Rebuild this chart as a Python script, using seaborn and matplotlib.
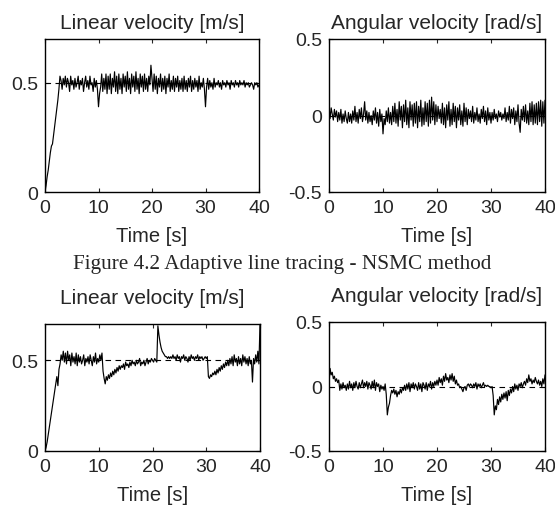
import numpy as np
import pandas as pd
import matplotlib
matplotlib.use("Agg")
import matplotlib.pyplot as plt
import seaborn as sns

# sample times (0.2 s step, 0..40 s)
time_s = [round(0.2 * i, 1) for i in range(201)]

# top row: NSMC, constant line
lin_top = [
    0.00, 0.03, 0.07, 0.10, 0.14, 0.18, 0.21, 0.22, 0.26, 0.30,
    0.34, 0.38, 0.42, 0.47, 0.53, 0.51, 0.47, 0.52, 0.49, 0.53,
    0.48, 0.52, 0.50, 0.46, 0.53, 0.49, 0.51, 0.47, 0.52, 0.48,
    0.50, 0.53, 0.47, 0.51, 0.49, 0.52, 0.46, 0.50, 0.53, 0.48,
    0.51, 0.47, 0.53, 0.49, 0.50, 0.46, 0.52, 0.48, 0.51, 0.47,
    0.39, 0.45, 0.48, 0.54, 0.46, 0.52, 0.47, 0.54, 0.45, 0.53,
    0.47, 0.54, 0.45, 0.52, 0.48, 0.55, 0.46, 0.53, 0.45, 0.54,
    0.47, 0.52, 0.45, 0.54, 0.48, 0.53, 0.46, 0.55, 0.47, 0.52,
    0.45, 0.54, 0.48, 0.53, 0.46, 0.55, 0.47, 0.52, 0.45, 0.54,
    0.48, 0.53, 0.46, 0.54, 0.47, 0.52, 0.46, 0.53, 0.49, 0.58,
    0.52, 0.46, 0.54, 0.47, 0.53, 0.45, 0.52, 0.48, 0.54, 0.46,
    0.52, 0.47, 0.53, 0.45, 0.52, 0.48, 0.54, 0.46, 0.51, 0.47,
    0.53, 0.46, 0.52, 0.48, 0.53, 0.46, 0.51, 0.47, 0.52, 0.46,
    0.53, 0.47, 0.51, 0.46, 0.52, 0.48, 0.53, 0.46, 0.51, 0.47,
    0.52, 0.48, 0.51, 0.46, 0.53, 0.47, 0.50, 0.48, 0.52, 0.47,
    0.39, 0.48, 0.52, 0.47, 0.51, 0.48, 0.50, 0.47, 0.52, 0.48,
    0.50, 0.49, 0.51, 0.48, 0.50, 0.47, 0.51, 0.49, 0.50, 0.48,
    0.51, 0.49, 0.50, 0.47, 0.51, 0.49, 0.50, 0.48, 0.51, 0.49,
    0.50, 0.48, 0.51, 0.49, 0.50, 0.49, 0.51, 0.48, 0.50, 0.49,
    0.50, 0.48, 0.49, 0.50, 0.49, 0.47, 0.50, 0.49, 0.50, 0.48,
    0.49,
]

ang_top = [
    0.06, -0.02, 0.05, 0.01, -0.03, 0.04, -0.01, 0.03, -0.04, 0.02,
    -0.03, 0.04, -0.05, 0.01, -0.04, 0.03, -0.02, -0.05, 0.02, -0.04,
    0.01, -0.05, 0.03, -0.03, 0.06, -0.04, 0.02, -0.05, 0.04, -0.02,
    0.05, -0.04, 0.01, 0.09, -0.03, 0.03, -0.05, 0.02, -0.04, 0.00,
    -0.06, 0.03, -0.03, 0.05, -0.05, 0.02, -0.07, 0.04, -0.04, 0.01,
    -0.12, -0.02, -0.06, 0.03, -0.04, 0.05, -0.05, 0.02, -0.06, 0.06,
    -0.04, 0.08, -0.05, 0.04, -0.07, 0.09, -0.03, 0.06, -0.08, 0.07,
    -0.04, 0.10, -0.06, 0.05, -0.08, 0.09, -0.03, 0.07, -0.07, 0.08,
    -0.05, 0.09, -0.08, 0.06, -0.04, 0.10, -0.07, 0.05, -0.06, 0.09,
    -0.04, 0.08, -0.07, 0.10, -0.05, 0.12, -0.03, 0.09, -0.06, 0.07,
    -0.04, 0.06, -0.02, 0.04, -0.05, 0.08, -0.06, 0.05, -0.08, 0.07,
    -0.03, 0.09, -0.07, 0.04, -0.06, 0.08, -0.04, 0.06, -0.08, 0.05,
    -0.03, 0.07, -0.06, 0.03, -0.07, 0.08, -0.04, 0.05, -0.06, 0.04,
    -0.02, 0.03, -0.04, 0.06, -0.05, 0.02, -0.03, 0.05, -0.04, 0.01,
    -0.05, 0.04, -0.02, 0.06, -0.04, 0.03, -0.06, 0.05, -0.03, 0.02,
    -0.05, 0.02, -0.03, 0.04, -0.02, 0.01, -0.04, 0.03, -0.01, 0.02,
    -0.03, 0.01, -0.02, 0.05, -0.04, 0.02, -0.03, 0.06, -0.05, 0.04,
    -0.02, 0.05, -0.06, 0.03, -0.04, 0.07, -0.05, -0.11, 0.04, -0.03,
    0.06, -0.04, 0.07, -0.05, 0.03, -0.06, 0.08, -0.04, 0.09, -0.06,
    0.07, -0.05, 0.08, -0.06, 0.09, -0.04, 0.10, -0.07, 0.09, -0.05,
    0.10,
]

# bottom row: adaptive line tracing - NSMC
lin_bot = [
    0.00, 0.02, 0.05, 0.09, 0.13, 0.17, 0.21, 0.25, 0.29, 0.33,
    0.37, 0.41, 0.36, 0.45, 0.48, 0.53, 0.50, 0.55, 0.49, 0.54,
    0.48, 0.55, 0.50, 0.53, 0.47, 0.54, 0.49, 0.52, 0.48, 0.54,
    0.47, 0.53, 0.49, 0.52, 0.48, 0.50, 0.53, 0.47, 0.51, 0.49,
    0.52, 0.48, 0.53, 0.50, 0.47, 0.52, 0.49, 0.54, 0.48, 0.51,
    0.49, 0.53, 0.50, 0.54, 0.44, 0.40, 0.37, 0.41, 0.39, 0.42,
    0.40, 0.43, 0.41, 0.44, 0.42, 0.45, 0.43, 0.46, 0.44, 0.47,
    0.45, 0.47, 0.46, 0.48, 0.45, 0.49, 0.47, 0.48, 0.46, 0.49,
    0.47, 0.50, 0.48, 0.49, 0.47, 0.50, 0.48, 0.49, 0.51, 0.47,
    0.49, 0.48, 0.50, 0.47, 0.49, 0.51, 0.48, 0.50, 0.49, 0.51,
    0.50, 0.49, 0.51, 0.50, 0.49, 0.69, 0.64, 0.60, 0.57, 0.55,
    0.54, 0.53, 0.52, 0.52, 0.51, 0.52, 0.51, 0.52, 0.51, 0.53,
    0.51, 0.52, 0.50, 0.53, 0.51, 0.52, 0.49, 0.52, 0.51, 0.53,
    0.50, 0.52, 0.51, 0.49, 0.52, 0.50, 0.53, 0.51, 0.52, 0.50,
    0.52, 0.51, 0.53, 0.50, 0.52, 0.51, 0.52, 0.50, 0.51, 0.52,
    0.51, 0.52, 0.41, 0.40, 0.42, 0.41, 0.43, 0.42, 0.44, 0.42,
    0.45, 0.43, 0.46, 0.44, 0.47, 0.45, 0.48, 0.46, 0.49, 0.47,
    0.50, 0.47, 0.51, 0.48, 0.52, 0.47, 0.53, 0.49, 0.51, 0.47,
    0.52, 0.48, 0.51, 0.47, 0.53, 0.49, 0.52, 0.48, 0.51, 0.47,
    0.52, 0.48, 0.50, 0.38, 0.51, 0.48, 0.53, 0.49, 0.55, 0.48,
    0.70,
]

ang_bot = [
    0.02, 0.14, 0.09, 0.11, 0.06, 0.08, 0.04, 0.06, 0.03, 0.05,
    -0.03, 0.02, -0.02, 0.03, -0.01, 0.01, -0.03, 0.02, -0.02, 0.04,
    -0.01, 0.02, -0.03, 0.03, -0.01, 0.04, 0.00, -0.02, 0.03, -0.01,
    0.02, 0.05, -0.01, 0.03, 0.00, 0.04, -0.02, 0.03, 0.01, -0.02,
    0.04, -0.01, 0.05, -0.03, 0.03, 0.00, 0.02, -0.04, 0.01, -0.02,
    0.00, -0.03, 0.02, -0.06, -0.22, -0.16, -0.13, -0.07, -0.03, -0.05,
    -0.02, -0.06, -0.03, -0.08, -0.04, -0.06, -0.02, -0.05, -0.01, -0.03,
    0.01, -0.03, 0.02, -0.02, 0.03, -0.04, 0.02, -0.01, 0.03, -0.02,
    0.02, 0.00, -0.03, 0.03, -0.02, 0.02, -0.04, 0.03, 0.01, -0.02,
    0.03, -0.03, 0.02, 0.00, 0.04, -0.02, 0.03, 0.00, 0.04, 0.01,
    0.05, 0.01, 0.07, 0.03, 0.06, 0.01, 0.08, 0.04, 0.10, 0.05,
    0.07, 0.03, 0.09, 0.05, 0.10, 0.04, 0.08, 0.02, 0.05, 0.01,
    0.02, -0.01, 0.00, -0.02, -0.04, -0.01, 0.00, -0.03, 0.01, 0.02,
    0.00, 0.02, 0.01, -0.01, 0.02, 0.00, 0.03, -0.02, 0.02, 0.00,
    0.02, -0.01, 0.01, 0.03, 0.00, 0.01, 0.00, 0.01, 0.00, 0.00,
    -0.01, 0.00, -0.07, -0.22, -0.15, -0.18, -0.10, -0.14, -0.08, -0.12,
    -0.06, -0.10, -0.05, -0.09, -0.04, -0.11, -0.03, -0.07, -0.02, -0.05,
    0.00, -0.04, 0.02, -0.02, 0.01, -0.03, 0.02, 0.00, 0.03, -0.01,
    0.02, 0.04, 0.01, 0.06, 0.03, 0.09, 0.04, 0.06, 0.02, 0.05,
    0.03, 0.07, 0.04, 0.02, 0.05, 0.01, 0.04, 0.00, 0.06, 0.02,
    0.09,
]

lin_ref = 0.5
ang_ref = 0.0
x_ticks = [0, 10, 20, 30, 40]
lin_yticks = [0, 0.5]
ang_yticks = [-0.5, 0, 0.5]
lin_title = "Linear velocity [m/s]"
ang_title = "Angular velocity [rad/s]"
x_label = "Time [s]"
caption = "Figure 4.2 Adaptive line tracing - NSMC method"

sns.set_style("ticks")
plt.rcParams["font.family"] = ["Liberation Sans", "DejaVu Sans"]

fig = plt.figure(figsize=(5.55, 5.10), dpi=100)

panels = [
    # rect, series, ref, ylim, yticks, title, title pad, xlabel pad
    ([45 / 555, 1 - 193 / 510, 214 / 555, 153 / 510], lin_top, lin_ref, (0, 0.7), lin_yticks, lin_title, 8, 7),
    ([329 / 555, 1 - 193 / 510, 216 / 555, 153 / 510], ang_top, ang_ref, (-0.5, 0.5), ang_yticks, ang_title, 8, 7),
    ([45 / 555, 1 - 452 / 510, 215 / 555, 127 / 510], lin_bot, lin_ref, (0, 0.7), lin_yticks, lin_title, 15, 7),
    ([329 / 555, 1 - 452 / 510, 216 / 555, 129 / 510], ang_bot, ang_ref, (-0.5, 0.5), ang_yticks, ang_title, 15, 7),
]

for rect, series, ref, ylim, yticks, title, tpad, lpad in panels:
    ax = fig.add_axes(rect)
    df = pd.DataFrame({"t": time_s, "v": series})
    ax.axhline(ref, color="black", lw=0.8, ls=(0, (5, 4)), zorder=1)
    sns.lineplot(data=df, x="t", y="v", ax=ax, color="black", lw=0.85,
                 estimator=None, zorder=2)
    ax.set_xlim(0, 40)
    ax.set_ylim(*ylim)
    ax.set_xticks(x_ticks)
    ax.set_yticks(yticks)
    ax.set_yticklabels([("%g" % v) for v in yticks])
    ax.tick_params(direction="in", length=3, width=0.8, labelsize=14,
                   top=True, right=True, pad=5)
    for sp in ax.spines.values():
        sp.set_visible(True)
        sp.set_linewidth(1.0)
        sp.set_color("black")
    ax.set_title(title, fontsize=15, pad=tpad)
    ax.set_xlabel(x_label, fontsize=14.5, labelpad=lpad)
    ax.set_ylabel("")

fig.text(282 / 555, 1 - 264 / 510, caption, ha="center", va="center",
         fontsize=15.3, family=["Liberation Serif", "DejaVu Serif"])

fig.savefig("out.png", dpi=100)
